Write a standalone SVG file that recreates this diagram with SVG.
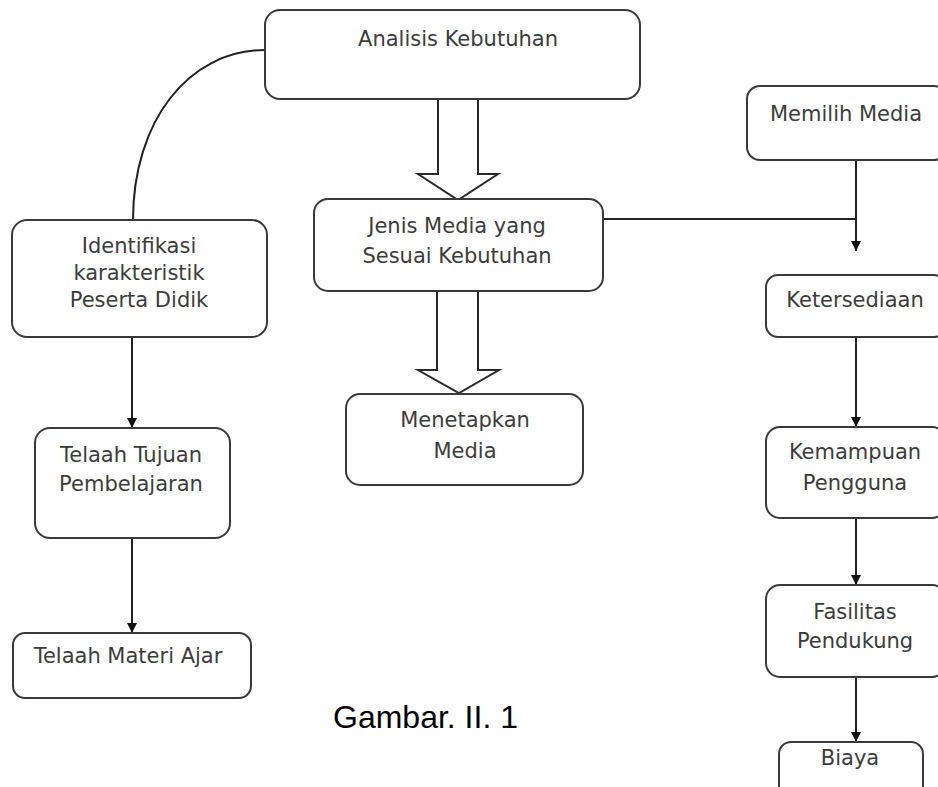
<svg xmlns="http://www.w3.org/2000/svg" width="938" height="787" viewBox="0 0 938 787">
<defs>
<style>
.box{fill:#fff;stroke:#3a3a3a;stroke-width:2}
.t{font-family:"DejaVu Sans",Verdana,sans-serif;font-size:21px;fill:#3c3c3c;text-anchor:middle}
.ln{fill:none;stroke:#222;stroke-width:2}
.hol{fill:#fff;stroke:#2a2a2a;stroke-width:2;stroke-linejoin:miter}
.cap{font-family:"Liberation Sans",Arial,sans-serif;font-size:32px;fill:#000}
</style>
<marker id="ah" viewBox="0 0 10 10" refX="10" refY="5" markerWidth="10" markerHeight="10" markerUnits="userSpaceOnUse" orient="auto">
<path d="M0,0 L10,5 L0,10 Z" fill="#111"/>
</marker>
</defs>
<rect width="938" height="787" fill="#fff"/>
<g id="connectors">
<path class="ln" d="M133,220 C133,122 188,50 265,50"/>
<path class="hol" d="M438,99 L438,174 L418,174 L458,200 L498,174 L478,174 L478,99"/>
<path class="hol" d="M437,291 L437,370 L418,370 L459,393 L499,370 L478,370 L478,291"/>
<path class="ln" d="M603,219 L856,219"/>
<path class="ln" d="M856,160 L856,251" marker-end="url(#ah)"/>
<path class="ln" d="M132,337 L132,428" marker-end="url(#ah)"/>
<path class="ln" d="M132,538 L132,633" marker-end="url(#ah)"/>
<path class="ln" d="M856,337 L856,427" marker-end="url(#ah)"/>
<path class="ln" d="M856,518 L856,585" marker-end="url(#ah)"/>
<path class="ln" d="M856,677 L856,742" marker-end="url(#ah)"/>
</g>
<g id="analisis">
<rect class="box" x="265" y="10" width="375" height="89" rx="15"/>
<text class="t" x="458" y="46">Analisis Kebutuhan</text>
</g>
<g id="jenis">
<rect class="box" x="314" y="199" width="289" height="92" rx="14"/>
<text class="t" x="457" y="233">Jenis Media yang</text>
<text class="t" x="457" y="263">Sesuai Kebutuhan</text>
</g>
<g id="menetapkan">
<rect class="box" x="346" y="394" width="237" height="91" rx="14"/>
<text class="t" x="465" y="427">Menetapkan</text>
<text class="t" x="465" y="458">Media</text>
</g>
<g id="identifikasi">
<rect class="box" x="12" y="220" width="255" height="117" rx="15"/>
<text class="t" x="139" y="253">Identifikasi</text>
<text class="t" x="139" y="280">karakteristik</text>
<text class="t" x="139" y="307">Peserta Didik</text>
</g>
<g id="tujuan">
<rect class="box" x="35" y="428" width="195" height="110" rx="15"/>
<text class="t" x="131" y="462">Telaah Tujuan</text>
<text class="t" x="131" y="491">Pembelajaran</text>
</g>
<g id="materi">
<rect class="box" x="13" y="633" width="238" height="65" rx="12"/>
<text class="t" x="128" y="663">Telaah Materi Ajar</text>
</g>
<g id="memilih">
<rect class="box" x="747" y="86" width="200" height="74" rx="13"/>
<text class="t" x="846" y="121">Memilih Media</text>
</g>
<g id="ketersediaan">
<rect class="box" x="766" y="275" width="180" height="62" rx="12"/>
<text class="t" x="855" y="307">Ketersediaan</text>
</g>
<g id="kemampuan">
<rect class="box" x="766" y="427" width="180" height="91" rx="14"/>
<text class="t" x="855" y="459">Kemampuan</text>
<text class="t" x="855" y="490">Pengguna</text>
</g>
<g id="fasilitas">
<rect class="box" x="766" y="585" width="180" height="92" rx="14"/>
<text class="t" x="855" y="619">Fasilitas</text>
<text class="t" x="855" y="648">Pendukung</text>
</g>
<g id="biaya">
<rect class="box" x="779" y="742" width="144" height="60" rx="12"/>
<text class="t" x="850" y="765">Biaya</text>
</g>
<text class="cap" x="333" y="728">Gambar. II. 1</text>
</svg>
